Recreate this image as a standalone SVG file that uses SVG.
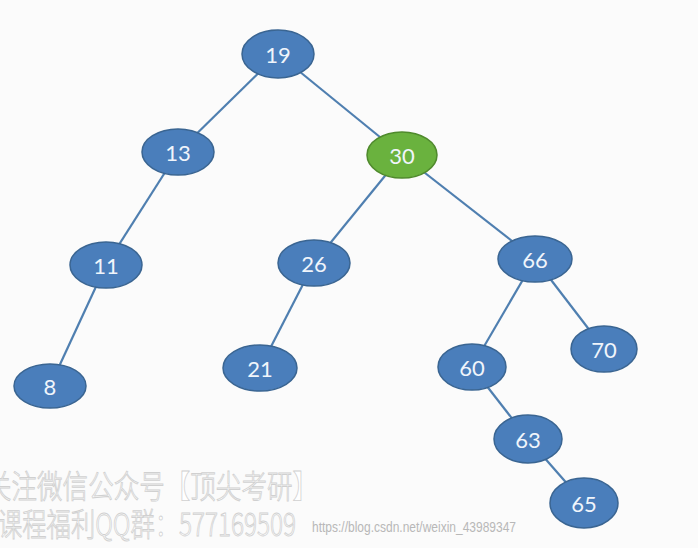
<svg xmlns="http://www.w3.org/2000/svg" width="698" height="548" viewBox="0 0 698 548">
<style>
.n ellipse{fill:#4a7ebb;stroke:#3a6592;stroke-width:1.5}
.g ellipse{fill:#6ab23e;stroke:#4f8a2c;stroke-width:1.5}
.n text,.g text{font-family:Lato,"Open Sans",sans-serif;font-size:22px;fill:#f0f5fb;text-anchor:middle;dominant-baseline:central}
#edges line{stroke:#4f7fb0;stroke-width:2.2}
.wm{font-family:"Noto Sans CJK SC",sans-serif;font-weight:300;font-size:32px;fill:#ffffff;stroke:#d0d0d0;stroke-width:0.9}
.url{font-family:"Liberation Sans",sans-serif;font-size:14px;fill:#b8b8b8}
</style>
<rect width="698" height="548" fill="#fbfbfb"/>
<g id="edges">
<line x1="278" y1="54" x2="178" y2="152"/>
<line x1="278" y1="54" x2="402" y2="155"/>
<line x1="178" y1="152" x2="106" y2="265"/>
<line x1="106" y1="265" x2="50" y2="386"/>
<line x1="402" y1="155" x2="314" y2="263"/>
<line x1="402" y1="155" x2="535" y2="259"/>
<line x1="314" y1="263" x2="260" y2="368"/>
<line x1="535" y1="259" x2="472" y2="367"/>
<line x1="535" y1="259" x2="604" y2="349"/>
<line x1="472" y1="367" x2="528" y2="439"/>
<line x1="528" y1="439" x2="584" y2="503"/>
</g>
<g id="n19" class="n"><ellipse cx="278" cy="54" rx="36" ry="24"/><text x="278" y="54">19</text></g>
<g id="n13" class="n"><ellipse cx="178" cy="152" rx="36" ry="23"/><text x="178" y="152">13</text></g>
<g id="n30" class="g"><ellipse cx="402" cy="155" rx="35" ry="23"/><text x="402" y="155">30</text></g>
<g id="n11" class="n"><ellipse cx="106" cy="265" rx="36" ry="23"/><text x="106" y="265">11</text></g>
<g id="n26" class="n"><ellipse cx="314" cy="263" rx="36" ry="23"/><text x="314" y="263">26</text></g>
<g id="n66" class="n"><ellipse cx="535" cy="259" rx="37" ry="23"/><text x="535" y="259">66</text></g>
<g id="n8" class="n"><ellipse cx="50" cy="386" rx="36" ry="22"/><text x="50" y="386">8</text></g>
<g id="n21" class="n"><ellipse cx="260" cy="368" rx="37" ry="23"/><text x="260" y="368">21</text></g>
<g id="n60" class="n"><ellipse cx="472" cy="367" rx="34" ry="23"/><text x="472" y="367">60</text></g>
<g id="n70" class="n"><ellipse cx="604" cy="349" rx="33" ry="23"/><text x="604" y="349">70</text></g>
<g id="n63" class="n"><ellipse cx="528" cy="439" rx="34" ry="24"/><text x="528" y="439">63</text></g>
<g id="n65" class="n"><ellipse cx="584" cy="503" rx="34" ry="25"/><text x="584" y="503">65</text></g>
<text class="wm" x="-14" y="498" textLength="332" lengthAdjust="spacingAndGlyphs">关注微信公众号【顶尖考研】</text>
<text class="wm" x="-2" y="536" textLength="298" lengthAdjust="spacingAndGlyphs">课程福利QQ群：577169509</text>
<text class="url" x="312" y="532" textLength="204" lengthAdjust="spacingAndGlyphs">https://blog.csdn.net/weixin_43989347</text>
</svg>
